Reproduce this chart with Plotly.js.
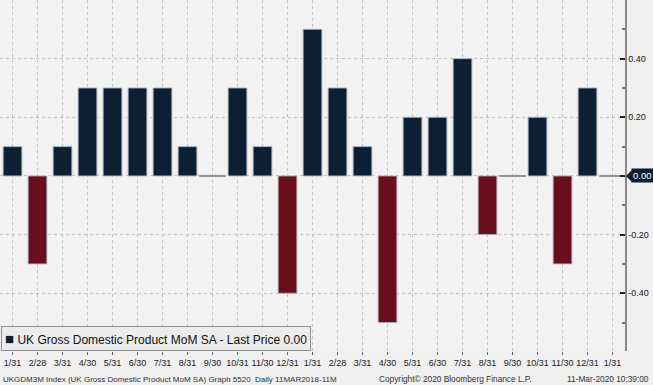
<!DOCTYPE html>
<html>
<head>
<meta charset="utf-8">
<script src="https://cdn.plot.ly/plotly-3.0.1.min.js"></script>
<style>
html,body{margin:0;padding:0;background:#f0f0f0;}
#chart{width:653px;height:385px;}
</style>
</head>
<body>
<div id="chart"></div>
<script>
// Month-end labels (Jan 2018 .. Jan 2020)
var categories = ["1/31","2/28","3/31","4/30","5/31","6/30","7/31","8/31","9/30","10/31","11/30","12/31",
                  "1/31 ","2/28 ","3/31 ","4/30 ","5/31 ","6/30 ","7/31 ","8/31 ","9/30 ","10/31 ","11/30 ","12/31 ",
                  "1/31  "];
var tickLabels = ["1/31","2/28","3/31","4/30","5/31","6/30","7/31","8/31","9/30","10/31","11/30","12/31",
                  "1/31","2/28","3/31","4/30","5/31","6/30","7/31","8/31","9/30","10/31","11/30","12/31","1/31"];
// UK GDP MoM SA (%)
var values = [0.1,-0.3,0.1,0.3,0.3,0.3,0.3,0.1,0.0,0.3,0.1,-0.4,
              0.5,0.3,0.1,-0.5,0.2,0.2,0.4,-0.2,0.0,0.2,-0.3,0.3,
              0.0];
var yTickVals = [-0.4,-0.2,0,0.2,0.4,0.6];
var yTickText = ["-0.40","-0.20","","0.20","0.40",""];
var lastPrice = "0.00";
var seriesName = "UK Gross Domestic Product MoM SA - Last Price " + lastPrice;
var footerLeft = "UKGDM3M Index (UK Gross Domestic Product MoM SA) Graph 5520  Daily 11MAR2018-11M";
var footerMid = "Copyright\u00A9 2020 Bloomberg Finance L.P.";
var footerRight = "11-Mar-2020 10:39:00";

var NAVY = "#0d1f33", RED = "#6a0e1d", ZERO = "#8e9399";
var barColors = values.map(function(v){ return v < 0 ? RED : NAVY; });

var zeroX = [], zeroY = [];
values.forEach(function(v,i){ if (v === 0) { zeroX.push(categories[i]); zeroY.push(0); } });

var traces = [
  {
    type: "bar", x: categories, y: values,
    marker: {color: barColors, line: {color: "rgba(170,180,195,0.9)", width: 1}},
    hoverinfo: "x+y", showlegend: false
  },
  {
    type: "scatter", mode: "markers", x: zeroX, y: zeroY,
    marker: {symbol: "line-ew-open", size: 19, color: ZERO, line: {color: ZERO, width: 2}},
    hoverinfo: "skip", showlegend: false
  }
];

var F = "Liberation Sans, Arial, sans-serif";
var FY = -0.0798;
var layout = {
  width: 653, height: 385,
  margin: {l: 0, r: 28, t: 0, b: 34},
  paper_bgcolor: "#f0f0f0", plot_bgcolor: "#f2f2f2",
  bargap: 0.25,
  font: {family: F, color: "#1a1a1a"},
  xaxis: {
    type: "category", range: [-0.5, 24.5],
    tickvals: categories, ticktext: tickLabels, tickangle: 0,
    tickfont: {size: 9, color: "#1a1a1a"},
    ticks: "outside", ticklen: 3, tickcolor: "#666",
    showgrid: true, gridcolor: "#c4c4c4", griddash: "dot", gridwidth: 1,
    showline: false, zeroline: false, fixedrange: true
  },
  yaxis: {
    side: "right", range: [-0.597, 0.6],
    tickmode: "array", tickvals: yTickVals, ticktext: yTickText,
    tickfont: {size: 9, color: "#1a1a1a"},
    ticks: "inside", ticklen: 5, tickwidth: 2, tickcolor: "#222",
    minor: {tickmode: "linear", tick0: 0, dtick: 0.1, ticks: "inside", ticklen: 3, tickcolor: "#777", showgrid: false},
    showgrid: true, gridcolor: "#c4c4c4", griddash: "dot", gridwidth: 1,
    showline: true, linecolor: "#8a8a8a", linewidth: 1.5,
    zeroline: false, fixedrange: true
  },
  annotations: [
    {xref: "paper", yref: "y", x: 1, y: 0, xanchor: "left", yanchor: "middle", xshift: 6,
     text: lastPrice, showarrow: false, bgcolor: NAVY, borderpad: 1,
     font: {size: 9.5, color: "#ffffff", family: F}},
    {xref: "paper", yref: "paper", x: 0, y: 0, xanchor: "left", yanchor: "bottom", xshift: 1,
     text: '<span style="color:' + NAVY + ';font-size:15px">\u25A0</span>\u00A0' + seriesName,
     showarrow: false, bgcolor: "#ececec", bordercolor: "#8f8f8f", borderwidth: 1, borderpad: 3,
     font: {size: 12, color: "#111", family: F}},
    {xref: "paper", yref: "paper", x: 0, y: FY, xanchor: "left", yanchor: "middle", xshift: 1,
     text: footerLeft, showarrow: false, font: {size: 8, color: "#333", family: F}},
    {xref: "paper", yref: "paper", x: 377/625, y: FY, xanchor: "left", yanchor: "middle",
     text: footerMid, showarrow: false, font: {size: 8.3, color: "#333", family: F}},
    {xref: "paper", yref: "paper", x: 651/625, y: FY, xanchor: "right", yanchor: "middle",
     text: footerRight, showarrow: false, font: {size: 8.3, color: "#333", family: F}}
  ],
  shapes: [
    {type: "path", xref: "paper", yref: "y", xsizemode: "pixel", ysizemode: "pixel",
     xanchor: 1, yanchor: 0, path: "M 1 0 L 7 -6 L 7 6 Z",
     fillcolor: NAVY, line: {width: 0}}
  ]
};

Plotly.newPlot("chart", traces, layout, {displayModeBar: false, staticPlot: true});
</script>
</body>
</html>
